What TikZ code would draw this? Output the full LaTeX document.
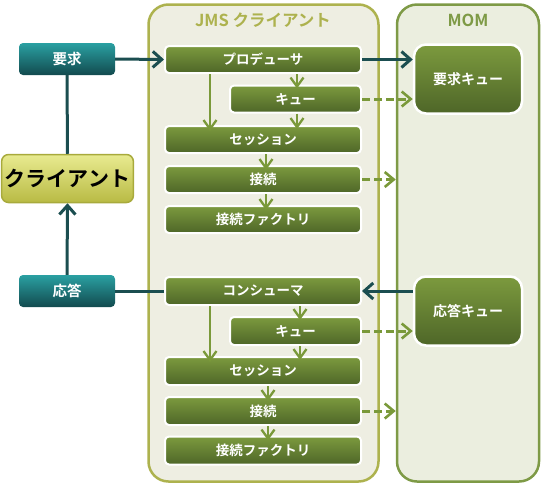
\documentclass[tikz,border=0pt]{standalone}
\usepackage{fontspec}
\setmainfont{Noto Sans CJK JP}[BoldFont={Noto Sans CJK JP Bold}]
\usetikzlibrary{arrows.meta}
\definecolor{teal1}{HTML}{2AA0A2}
\definecolor{teal2}{HTML}{124A4E}
\definecolor{tealline}{HTML}{1B4E50}
\definecolor{grn1}{HTML}{7C9A3E}
\definecolor{grn2}{HTML}{4E6628}
\definecolor{grnline}{HTML}{7A993A}
\definecolor{yel1}{HTML}{E8EA90}
\definecolor{yel2}{HTML}{B8BB44}
\definecolor{yelborder}{HTML}{A8AA3C}
\definecolor{jmsborder}{HTML}{ADB24E}
\definecolor{jmsfill}{HTML}{EEEEE2}
\definecolor{momborder}{HTML}{7E9A46}
\definecolor{momfill}{HTML}{EBEEDF}
\tikzset{
  gbox/.style={top color=grn1, bottom color=grn2, draw=white, line width=2pt, rounded corners=4pt,
    minimum height=27pt, text=white, font=\fontsize{13.5}{15}\selectfont\bfseries, inner sep=0pt},
  tbox/.style={top color=teal1, bottom color=teal2, draw=none, rounded corners=4pt,
    minimum width=96pt, minimum height=32pt, text=white, font=\fontsize{14.5}{16}\selectfont\bfseries},
  qbox/.style={top color=grn1, bottom color=grn2, draw=white, line width=2.5pt, rounded corners=12pt,
    minimum width=108pt, minimum height=69pt, text=white, font=\fontsize{14}{16}\selectfont\bfseries},
  container/.style={line width=2.5pt, rounded corners=20pt},
  tealarrow/.style={draw=tealline, line width=3pt, -{Straight Barb[length=9pt,width=16pt,line width=3pt]}},
  tealline/.style={draw=tealline, line width=3pt},
  garrow/.style={draw=grnline, line width=2.5pt, -{Straight Barb[length=9pt,width=13pt,line width=2.3pt]}},
  gdash/.style={draw=grnline, line width=3pt, dash pattern=on 8pt off 4pt, -{Straight Barb[length=9pt,width=15pt,line width=2.6pt]}},
}
\begin{document}
\begin{tikzpicture}[x=1pt,y=-1pt]
\useasboundingbox (0,0) rectangle (546,491);
% containers
\node[container, draw=jmsborder, fill=jmsfill, minimum width=230pt, minimum height=477pt] (jms) at (263.5,243) {};
\node[container, draw=momborder, fill=momfill, minimum width=142pt, minimum height=477pt] (mom) at (468,243) {};
\node[text=jmsborder, font=\fontsize{16.5}{18}\selectfont\bfseries] (jmst) at (263,20) {JMS クライアント};
\node[text=momborder, font=\fontsize{16.5}{18}\selectfont\bfseries] (momt) at (468,20) {MOM};
% top group
\node[gbox, minimum width=196pt] (pro) at (263,59.5) {プロデューサ};
\node[gbox, minimum width=131pt] (kyu1) at (295.5,99) {キュー};
\node[gbox, minimum width=196pt] (ses1) at (263,139.5) {セッション};
\node[gbox, minimum width=196pt] (con1) at (263,179.5) {接続};
\node[gbox, minimum width=196pt] (fac1) at (263,219.5) {接続ファクトリ};
% bottom group
\node[gbox, minimum width=196pt, minimum height=28pt] (cons) at (263,291) {コンシューマ};
\node[gbox, minimum width=131pt, minimum height=28pt] (kyu2) at (295.5,331) {キュー};
\node[gbox, minimum width=196pt, minimum height=28pt] (ses2) at (263,371) {セッション};
\node[gbox, minimum width=196pt, minimum height=28pt] (con2) at (263,411) {接続};
\node[gbox, minimum width=196pt, minimum height=28pt] (fac2) at (263,450.5) {接続ファクトリ};
% queues
\node[qbox] (rq) at (468,79) {要求キュー};
\node[qbox] (aq) at (468,311) {応答キュー};
% left side
\node[tbox] (req) at (67,59) {要求};
\node[tbox] (res) at (67,291) {応答};
\node[top color=yel1, bottom color=yel2, draw=yelborder, line width=1.5pt, rounded corners=7pt,
  minimum width=128pt, minimum height=48pt, text=black, font=\fontsize{21}{24}\selectfont\bfseries] (cli) at (67.5,178.5) {クライアント};
% teal connectors
\draw[tealline] (cli.north) -- (req.south);
\draw[tealarrow] (req.east) -- (pro.west);
\draw[tealarrow] (pro.east) -- (pro.east -| rq.west);
\draw[tealarrow] (res.north) -- (cli.south);
\draw[tealline] (cons.west) -- (res.east);
\draw[tealarrow] (cons.east -| aq.west) -- (cons.east);
% green dashed
\draw[gdash] (kyu1.east) -- (kyu1.east -| rq.west);
\draw[gdash] (con1.east) -- (con1.east -| mom.west);
\draw[gdash] (kyu2.east) -- (kyu2.east -| aq.west);
\draw[gdash] (con2.east) -- (con2.east -| mom.west);
% green vertical arrows top
\draw[garrow, shorten >=-6pt] (pro.south -| 210,0) -- (ses1.north -| 210,0);
\draw[garrow, shorten >=-4pt] (pro.south -| 297,0) -- (kyu1.north -| 297,0);
\draw[garrow, shorten >=-4pt] (kyu1.south -| 297,0) -- (ses1.north -| 297,0);
\draw[garrow, shorten >=-5pt] (ses1.south -| 266,0) -- (con1.north -| 266,0);
\draw[garrow, shorten >=-5pt] (con1.south -| 266,0) -- (fac1.north -| 266,0);
% green vertical arrows bottom
\draw[garrow, shorten >=-6pt] (cons.south -| 210,0) -- (ses2.north -| 210,0);
\draw[garrow, shorten >=-4pt] (cons.south -| 300,0) -- (kyu2.north -| 300,0);
\draw[garrow, shorten >=-4pt] (kyu2.south -| 300,0) -- (ses2.north -| 300,0);
\draw[garrow, shorten >=-5pt] (ses2.south -| 268,0) -- (con2.north -| 268,0);
\draw[garrow, shorten >=-5pt] (con2.south -| 268,0) -- (fac2.north -| 268,0);
\end{tikzpicture}
\end{document}
